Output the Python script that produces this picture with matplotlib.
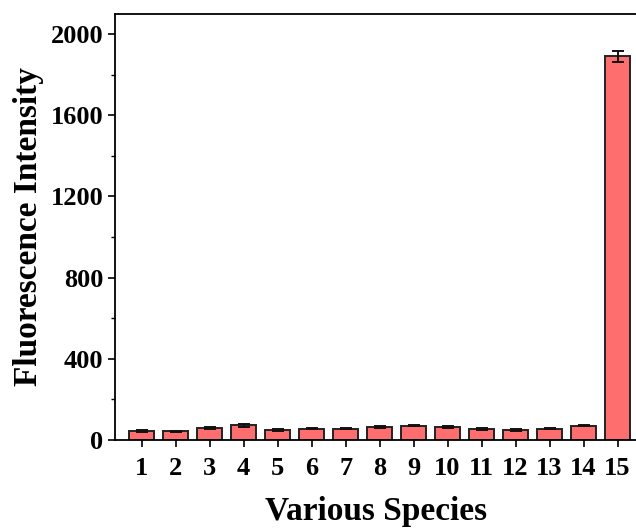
import numpy as np
import matplotlib
matplotlib.use("Agg")
import matplotlib.pyplot as plt
from matplotlib.ticker import MultipleLocator

# data
species = list(range(1, 16))
intensity = [43, 42, 58, 72, 50, 56, 56, 64, 71, 64, 56, 48, 56, 71, 1890]
errors = [6, 4, 6, 7, 5, 4, 4, 6, 4, 3, 5, 4, 3, 4, 28]

plt.rcParams['font.family'] = ['Liberation Serif', 'DejaVu Serif']
plt.rcParams['font.weight'] = 'bold'

fig = plt.figure(figsize=(6.36, 5.28), dpi=100)
ax = fig.add_axes([0.181, 0.1667, 0.822, 0.807])

ax.bar(species, intensity, width=0.74, color='#ff6e6e', edgecolor='#222222',
       linewidth=1.4, yerr=errors, capsize=4,
       error_kw=dict(elinewidth=1.4, capthick=1.4, ecolor='#111111'))

ax.set_xlim(0.22, 15.6)
ax.set_ylim(0, 2100)
ax.set_xticks(species)
ax.set_xticklabels([str(s) for s in species])
ax.yaxis.set_major_locator(MultipleLocator(400))
ax.yaxis.set_minor_locator(MultipleLocator(200))
ax.tick_params(axis='both', which='major', direction='out', length=5, width=1.2,
               labelsize=19)
ax.tick_params(axis='x', which='major', pad=7)
ax.tick_params(axis='y', which='minor', direction='out', length=3, width=1.0)
for s in ax.spines.values():
    s.set_linewidth(1.3)

ax.set_xlabel('Various Species', fontsize=24, fontweight='bold', labelpad=12)
ax.set_ylabel('Fluorescence Intensity', fontsize=24, fontweight='bold', labelpad=5)

fig.savefig('out.png', dpi=100)
